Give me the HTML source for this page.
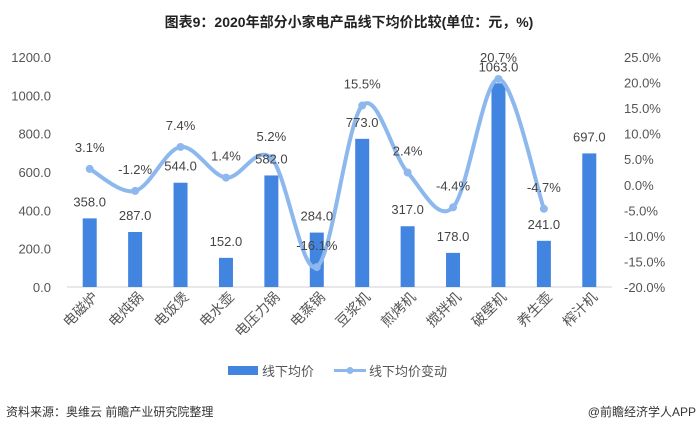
<!DOCTYPE html>
<html><head><meta charset="utf-8"><style>
body{margin:0;background:#fff;}
svg text{font-family:"Liberation Sans","Noto Sans CJK SC",sans-serif;}
</style></head><body>
<svg id="c" width="698" height="431" xmlns="http://www.w3.org/2000/svg">
<text x="349" y="27" text-anchor="middle" font-size="14" font-weight="bold" fill="#222">图表9：2020年部分小家电产品线下均价比较(单位：元，%)</text>
<g id="grid"></g><g id="bars"></g><g id="line"></g><g id="labels"></g>
<g>
<rect x="228" y="366" width="30" height="9" fill="#4285e0"/>
<text x="262" y="376" font-size="13" fill="#555">线下均价</text>
<line x1="334" y1="370.5" x2="366" y2="370.5" stroke="#8db8ee" stroke-width="3"/>
<circle cx="350" cy="370.5" r="3.5" fill="#8db8ee"/>
<text x="369" y="376" font-size="13" fill="#555">线下均价变动</text>
</g>
<text x="6" y="416" font-size="12" fill="#333">资料来源：奥维云 前瞻产业研究院整理</text>
<text x="696" y="416" text-anchor="end" font-size="12" fill="#333">@前瞻经济学人APP</text>
</svg>
<script>
const categories=["电磁炉","电炖锅","电饭煲","电水壶","电压力锅","电蒸锅","豆浆机","煎烤机","搅拌机","破壁机","养生壶","榨汁机"];
const prices=[358,287,544,152,582,284,773,317,178,1063,241,697];
const changes=[3.1,-1.2,7.4,1.4,5.2,-16.1,15.5,2.4,-4.4,20.7,-4.7];
const leftTicks=[0,200,400,600,800,1000,1200];
const rightTicks=[-20,-15,-10,-5,0,5,10,15,20,25];
const NS="http://www.w3.org/2000/svg";
const x0=67,x1=612,yB=287,yT=57;
const bw=(x1-x0)/categories.length;
const xc=i=>x0+bw*(i+0.5);
const yL=v=>yB-(v/1200)*(yB-yT);
const yR=v=>yB-((v+20)/45)*(yB-yT);
function mk(t,a,p){const e=document.createElementNS(NS,t);for(const k in a)e.setAttribute(k,a[k]);document.getElementById(p).appendChild(e);return e;}
const ax=mk('line',{x1:x0,x2:x1,y1:yB,y2:yB,stroke:'#d0d0d0','stroke-width':1},'grid');


leftTicks.forEach(v=>{const t=mk('text',{x:51,y:yL(v)+5,'text-anchor':'end','font-size':13,fill:'#555'},'labels');t.textContent=v.toFixed(1);

});
rightTicks.forEach(v=>{const t=mk('text',{x:624,y:yR(v)+5,'font-size':13,fill:'#555'},'labels');t.textContent=v.toFixed(1)+'%';

});
categories.forEach((c,i)=>{const x=xc(i);const t=mk('text',{x:x+9,y:298,'text-anchor':'end','font-size':14,fill:'#555',transform:`rotate(-45 ${x+9} 298)`},'labels');t.textContent=c;

});
prices.forEach((v,i)=>{const r=mk('rect',{x:xc(i)-7,y:yL(v),width:14,height:yB-yL(v),fill:'#4285e0'},'bars');


const t=mk('text',{x:xc(i),y:yL(v)-12,'text-anchor':'middle','font-size':13,fill:'#444'},'labels');t.textContent=v.toFixed(1);

});
const pts=changes.map((v,i)=>[xc(i),yR(v)]);
let d=`M${pts[0][0]},${pts[0][1]}`;
for(let i=0;i<pts.length-1;i++){const p0=pts[i-1]||pts[i],p1=pts[i],p2=pts[i+1],p3=pts[i+2]||p2;
d+=` C${p1[0]+(p2[0]-p0[0])/6},${p1[1]+(p2[1]-p0[1])/6} ${p2[0]-(p3[0]-p1[0])/6},${p2[1]-(p3[1]-p1[1])/6} ${p2[0]},${p2[1]}`;}
const pl=mk('path',{d:d,fill:'none',stroke:'#8db8ee','stroke-width':4,'stroke-linecap':'round'},'line');


changes.forEach((v,i)=>{const c=mk('circle',{cx:pts[i][0],cy:pts[i][1],r:4,fill:'#8db8ee'},'line');


const t=mk('text',{x:pts[i][0],y:pts[i][1]-17,'text-anchor':'middle','font-size':13,fill:'#444'},'labels');t.textContent=v.toFixed(1)+'%';

});
</script>
</body></html>
